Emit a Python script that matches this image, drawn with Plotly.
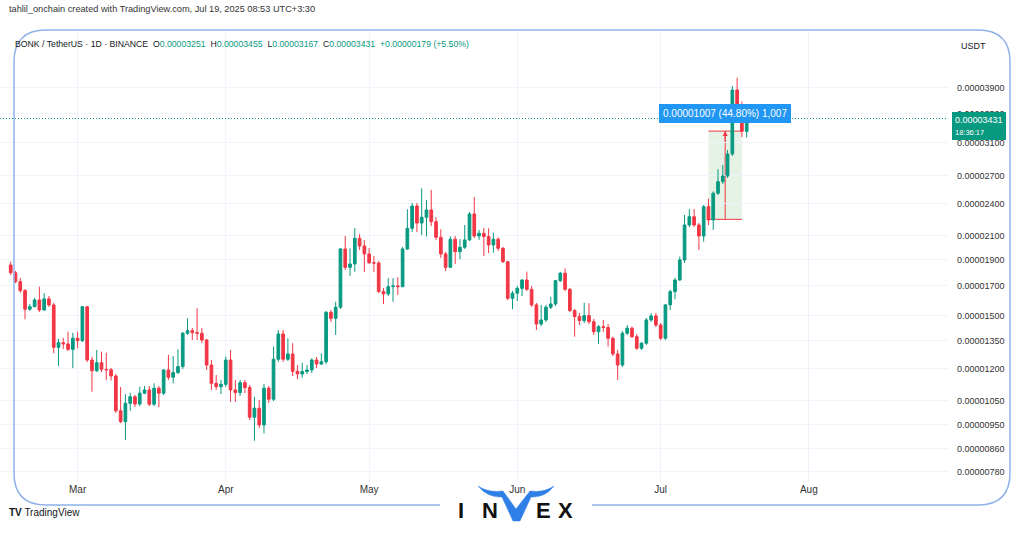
import math
import pandas as pd
import plotly.graph_objects as go

# ---------------- data (prices in units of 1e-8 USDT) ----------------
UNIT = 1e-8
dates = pd.date_range("2025-02-15", "2025-07-19", freq="D")

opens = [1856, 1797, 1731, 1667, 1542, 1558, 1603, 1537, 1610, 1570,
         1314, 1340, 1333, 1303, 1365, 1351, 1558, 1246, 1191, 1232,
         1198, 1196, 1165, 1007, 962, 1039, 1068, 1036, 1084, 1099,
         1035, 1107, 1084, 1195, 1159, 1182, 1212, 1394, 1409, 1398,
         1394, 1355, 1220, 1130, 1114, 1125, 1246, 1099, 1087, 1133,
         1110, 980, 1018, 949, 1107, 1057, 1250, 1390, 1250, 1278,
         1188, 1175, 1187, 1195, 1246, 1225, 1237, 1522, 1484, 1555,
         1985, 1838, 1864, 2076, 2010, 1944, 1874, 1872, 1660, 1644,
         1695, 1700, 1695, 1985, 2165, 2377, 2214, 2267, 2338, 2226,
         2085, 1944, 1838, 2068, 1963, 1999, 2062, 2299, 2096, 2120,
         2091, 2019, 2068, 1991, 1882, 1614, 1649, 1683, 1743, 1676,
         1570, 1449, 1474, 1555, 1576, 1738, 1793, 1676, 1533, 1495,
         1470, 1501, 1463, 1403, 1433, 1428, 1365, 1278, 1220, 1394,
         1424, 1374, 1309, 1337, 1474, 1499, 1443, 1365, 1570, 1660,
         1743, 1896, 2195, 2273, 2195, 2096, 2370, 2242, 2508, 2633,
         2696, 2957, 3867, 3512, 3251]
highs = [1882, 1810, 1758, 1678, 1576, 1616, 1695, 1649, 1630, 1582,
         1361, 1367, 1403, 1397, 1403, 1563, 1563, 1262, 1300, 1290,
         1285, 1205, 1175, 1113, 1080, 1086, 1076, 1114, 1117, 1117,
         1130, 1117, 1200, 1273, 1267, 1303, 1401, 1484, 1425, 1548,
         1425, 1361, 1246, 1170, 1146, 1264, 1300, 1146, 1146, 1146,
         1122, 1068, 1054, 1127, 1117, 1318, 1413, 1413, 1365, 1337,
         1220, 1232, 1220, 1255, 1262, 1282, 1531, 1537, 1591, 1994,
         2096, 1991, 2168, 2114, 2062, 1994, 1928, 1888, 1686, 1756,
         1756, 1763, 2002, 2345, 2408, 2408, 2560, 2438, 2543, 2270,
         2156, 1960, 2091, 2096, 2068, 2195, 2318, 2469, 2150, 2168,
         2165, 2126, 2085, 2002, 1888, 1665, 1700, 1748, 1805, 1700,
         1583, 1570, 1570, 1625, 1743, 1803, 1830, 1686, 1543, 1518,
         1584, 1581, 1480, 1443, 1474, 1449, 1374, 1300, 1407, 1443,
         1433, 1390, 1344, 1486, 1516, 1518, 1455, 1576, 1672, 1758,
         1923, 2289, 2348, 2348, 2214, 2387, 2451, 2527, 2774, 2824,
         3007, 3933, 4073, 3684, 3455]
lows = [1780, 1721, 1652, 1478, 1532, 1556, 1524, 1531, 1556, 1282,
        1215, 1305, 1294, 1204, 1309, 1344, 1236, 1091, 1185, 1185,
        1146, 1143, 998, 956, 891, 1007, 1023, 1027, 1080, 1027,
        1027, 1022, 1076, 1146, 1130, 1175, 1200, 1384, 1355, 1355,
        1337, 1195, 1099, 1099, 1080, 1113, 1046, 1045, 1072, 1085,
        969, 888, 937, 916, 1040, 1049, 1236, 1236, 1241, 1165,
        1149, 1156, 1175, 1180, 1205, 1220, 1225, 1462, 1384, 1543,
        1818, 1773, 1803, 1977, 1803, 1864, 1803, 1651, 1576, 1630,
        1591, 1637, 1690, 1977, 2132, 2132, 2105, 2091, 2186, 2062,
        1912, 1810, 1833, 1864, 1901, 1985, 2053, 2079, 2062, 1928,
        1950, 1955, 1969, 1872, 1603, 1542, 1596, 1630, 1665, 1557,
        1413, 1437, 1462, 1543, 1563, 1729, 1665, 1524, 1374, 1443,
        1455, 1449, 1384, 1333, 1402, 1318, 1267, 1146, 1210, 1384,
        1367, 1300, 1300, 1327, 1462, 1431, 1355, 1355, 1537, 1608,
        1736, 1872, 2177, 2177, 1977, 2047, 2195, 2150, 2490, 2607,
        2674, 2932, 3447, 3176, 3167]
closes = [1797, 1731, 1667, 1542, 1558, 1603, 1537, 1610, 1570, 1314,
          1340, 1333, 1303, 1365, 1351, 1558, 1246, 1191, 1232, 1198,
          1196, 1165, 1007, 962, 1039, 1068, 1036, 1084, 1099, 1035,
          1107, 1084, 1195, 1159, 1182, 1212, 1394, 1409, 1398, 1394,
          1355, 1220, 1130, 1114, 1125, 1246, 1099, 1087, 1133, 1110,
          980, 1018, 949, 1107, 1057, 1250, 1390, 1250, 1278, 1188,
          1175, 1187, 1195, 1246, 1225, 1237, 1522, 1484, 1555, 1985,
          1838, 1864, 2076, 2010, 1944, 1874, 1872, 1660, 1644, 1695,
          1700, 1695, 1985, 2165, 2377, 2214, 2267, 2338, 2226, 2085,
          1944, 1838, 2068, 1963, 1999, 2062, 2299, 2096, 2120, 2091,
          2019, 2068, 1991, 1882, 1614, 1649, 1683, 1743, 1676, 1570,
          1449, 1474, 1555, 1576, 1738, 1793, 1676, 1533, 1495, 1470,
          1501, 1463, 1403, 1433, 1428, 1365, 1278, 1220, 1394, 1424,
          1374, 1309, 1337, 1474, 1499, 1443, 1365, 1570, 1660, 1743,
          1896, 2195, 2273, 2195, 2096, 2370, 2242, 2508, 2633, 2696,
          2957, 3867, 3512, 3252, 3431]

ytick_vals = [3900, 3500, 3100, 2700, 2400, 2100, 1900, 1700, 1500,
              1350, 1200, 1050, 950, 860, 780]
month_ticks = ["2025-03-01", "2025-04-01", "2025-05-01", "2025-06-01",
               "2025-07-01", "2025-08-01"]
month_labels = ["Mar", "Apr", "May", "Jun", "Jul", "Aug"]

range_start = "2025-07-11"
range_end = "2025-07-18"
range_low = 2248
range_high = 3255
countdown = "18:36:17"

# ---------------- styling ----------------
GREEN = "#089981"
RED = "#f23645"
TXT = "#131722"
FONT = "Liberation Sans, Arial, sans-serif"
W, H = 1024, 538
L, R, T, B = 0, 76, 30, 56
PW, PH = W - L - R, H - T - B


def PX(x):
    return (x - L) / PW


def PY(y):
    return (H - B - y) / PH


def P(x, y):
    return f"{PX(x):.5f},{PY(y):.5f}"


fig = go.Figure()
fig.add_trace(go.Candlestick(
    x=dates,
    open=[v * UNIT for v in opens],
    high=[v * UNIT for v in highs],
    low=[v * UNIT for v in lows],
    close=[v * UNIT for v in closes],
    increasing=dict(line=dict(color=GREEN, width=1), fillcolor=GREEN),
    decreasing=dict(line=dict(color=RED, width=1), fillcolor=RED),
    whiskerwidth=0,
    hoverinfo="none",
    showlegend=False,
))

shapes = []
annotations = []

# price range tool
shapes.append(dict(type="rect", xref="x", yref="y", x0=range_start, x1=range_end,
                   y0=range_low * UNIT, y1=range_high * UNIT,
                   fillcolor="rgba(76,175,80,0.15)", line=dict(width=0), layer="below"))
for yv in (range_low, range_high):
    shapes.append(dict(type="line", xref="x", yref="y", x0=range_start, x1=range_end,
                       y0=yv * UNIT, y1=yv * UNIT, line=dict(color=RED, width=1), layer="below"))
mid = pd.Timestamp(range_start) + (pd.Timestamp(range_end) - pd.Timestamp(range_start)) / 2
shapes.append(dict(type="line", xref="x", yref="y", x0=mid, x1=mid,
                   y0=range_low * UNIT, y1=range_high * UNIT,
                   line=dict(color=RED, width=1), layer="below"))
annotations.append(dict(x=mid, y=math.log10(range_high * UNIT), xref="x", yref="y",
                        ax=0, ay=12, axref="pixel", ayref="pixel", text="",
                        showarrow=True, arrowhead=2, arrowsize=1, arrowwidth=1,
                        arrowcolor=RED))
diff = range_high - range_low
pct = diff / range_low * 100
annotations.append(dict(x=mid, y=math.log10(range_high * UNIT), xref="x", yref="y",
                        yanchor="bottom", yshift=8, showarrow=False,
                        text=f"{diff * UNIT:.8f} ({pct:.2f}%) {diff:,}",
                        font=dict(color="white", size=10, family=FONT),
                        bgcolor="#2196f3", bordercolor="#2196f3", borderpad=3))

# last price line + axis label
last = closes[-1]
shapes.append(dict(type="line", xref="paper", yref="y", x0=0, x1=1,
                   y0=last * UNIT, y1=last * UNIT,
                   line=dict(color=GREEN, width=1, dash="1px,2px")))
annotations.append(dict(x=1, y=math.log10(last * UNIT), xref="paper", yref="y",
                        xanchor="left", yanchor="top", xshift=4, yshift=7,
                        showarrow=False, align="left",
                        text=f"{last * UNIT:.8f}<br><span style='font-size:7.5px'>{countdown}</span>",
                        font=dict(color="white", size=9, family=FONT),
                        bgcolor=GREEN, bordercolor=GREEN, borderpad=2))
annotations.append(dict(x=1, y=PY(46), xref="paper", yref="paper", xanchor="left",
                        yanchor="middle", xshift=11, showarrow=False, text="USDT",
                        font=dict(color=TXT, size=9, family=FONT)))

# header texts
annotations.append(dict(x=PX(7), y=PY(9), xref="paper", yref="paper", xanchor="left",
                        yanchor="middle", showarrow=False,
                        text="tahlil_onchain created with TradingView.com, Jul 19, 2025 08:53 UTC+3:30",
                        font=dict(color="#333333", size=9.2, family=FONT)))
chg = closes[-1] - closes[-2]
chg_pct = chg / closes[-2] * 100


def gv(v):
    return f"<span style='color:{GREEN}'>{v * UNIT:.8f}</span>"


legend_txt = ("BONK / TetherUS · 1D · BINANCE&nbsp;&nbsp;"
              f"O{gv(opens[-1])}&nbsp;&nbsp;H{gv(highs[-1])}&nbsp;&nbsp;"
              f"L{gv(lows[-1])}&nbsp;&nbsp;C{gv(closes[-1])}&nbsp;&nbsp;"
              f"<span style='color:{GREEN}'>+{chg * UNIT:.8f} (+{chg_pct:.2f}%)</span>")
annotations.append(dict(x=PX(13), y=PY(44), xref="paper", yref="paper", xanchor="left",
                        yanchor="middle", showarrow=False, text=legend_txt,
                        font=dict(color=TXT, size=8.7, family=FONT)))

# footer: TradingView mark
annotations.append(dict(x=PX(7), y=PY(512), xref="paper", yref="paper", xanchor="left",
                        yanchor="middle", showarrow=False, text="<b>TV</b> TradingView",
                        font=dict(color=TXT, size=10, family=FONT)))

# decorative frame
frame = (f"M {P(440,505)} L {P(46,505)} Q {P(14,505)} {P(14,473)} L {P(14,62)} "
         f"Q {P(14,30)} {P(46,30)} L {P(978,30)} Q {P(1010,30)} {P(1010,62)} "
         f"L {P(1010,473)} Q {P(1010,505)} {P(978,505)} L {P(592,505)}")
shapes.append(dict(type="path", xref="paper", yref="paper", path=frame,
                   line=dict(color="#8fb3ea", width=1.5), fillcolor="rgba(0,0,0,0)"))

# INVEX logo
vpath = (f"M {P(478,486)} Q {P(488,498)} {P(502,497)} L {P(513,521)} L {P(520,521)} "
         f"L {P(531,497)} Q {P(545,498)} {P(554,486)} Q {P(544,493)} {P(530,491)} "
         f"L {P(516,509)} L {P(503,491)} Q {P(488,493)} {P(478,486)} Z")
shapes.append(dict(type="path", xref="paper", yref="paper", path=vpath,
                   line=dict(color="#2f7fe6", width=0.5), fillcolor="#2f7fe6"))
for ch, cx in (("I", 461), ("N", 490), ("E", 543), ("X", 565)):
    annotations.append(dict(x=PX(cx), y=PY(511), xref="paper", yref="paper",
                            xanchor="center", yanchor="middle",
                            showarrow=False, text=f"<b>{ch}</b>",
                            font=dict(color="#111111", size=22, family=FONT)))

fig.update_layout(
    width=W, height=H,
    margin=dict(l=L, r=R, t=T, b=B),
    paper_bgcolor="white", plot_bgcolor="white",
    font=dict(family=FONT, color=TXT),
    hovermode=False,
    showlegend=False,
    boxgap=0.2,
    shapes=shapes,
    annotations=annotations,
    xaxis=dict(
        type="date",
        range=["2025-02-12 18:15", "2025-08-30 03:00"],
        tickvals=month_ticks, ticktext=month_labels,
        tickfont=dict(size=10, color="#333333"),
        showgrid=True, gridcolor="#f0f3fa", gridwidth=1,
        zeroline=False, showline=False, ticks="",
        rangeslider=dict(visible=False),
    ),
    yaxis=dict(
        type="log", side="right",
        range=[math.log10(746.9e-8), math.log10(4974e-8)],
        tickvals=[v * UNIT for v in ytick_vals],
        ticktext=[f"{v * UNIT:.8f}" for v in ytick_vals],
        tickfont=dict(size=9, color="#333333"),
        showgrid=True, gridcolor="#f0f3fa", gridwidth=1,
        zeroline=False, showline=False, ticks="",
        ticklabelstandoff=8,
    ),
)

fig.write_html("out.html", config={"displayModeBar": False},
               post_script="document.body.style.margin='0px';document.body.style.padding='0px';")
